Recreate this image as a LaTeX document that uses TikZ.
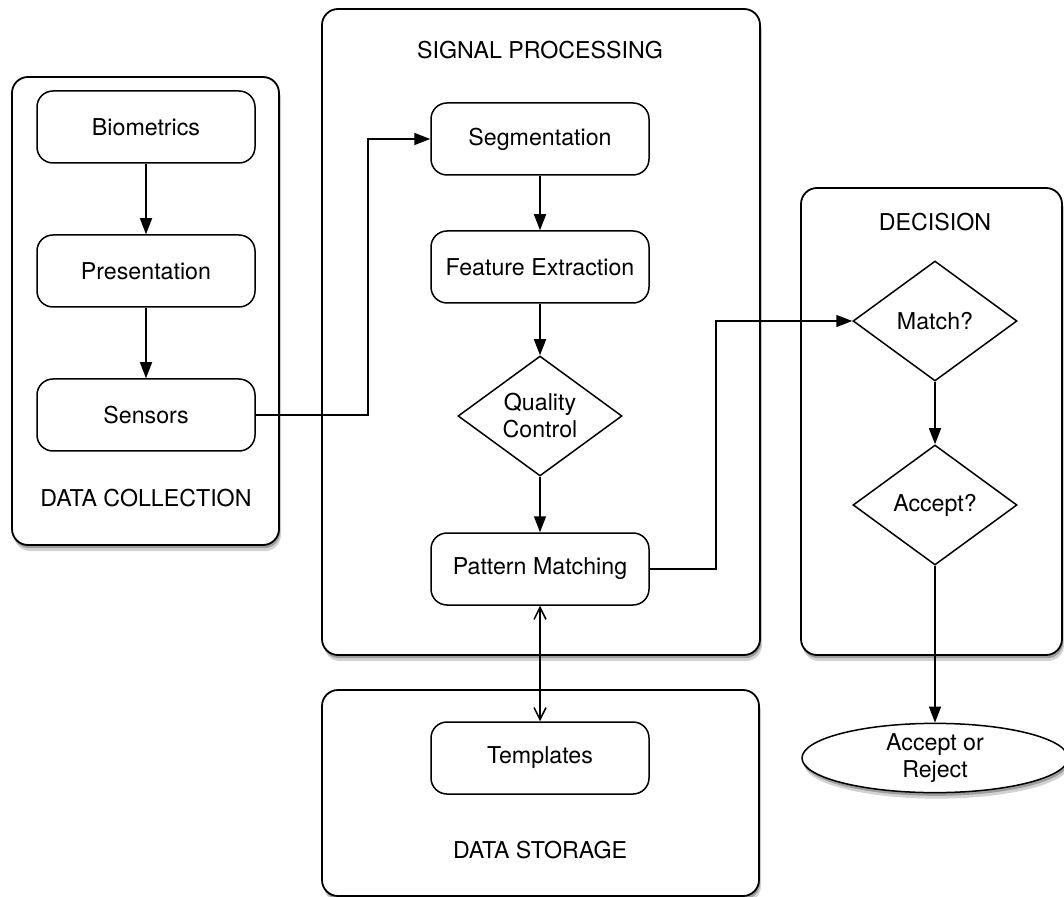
\documentclass[tikz,border=0pt]{standalone}
\usepackage{fontspec}
\setmainfont{TeX Gyre Heros}
\usetikzlibrary{arrows.meta,shapes.geometric,shadows}

\begin{document}
\begin{tikzpicture}[x=0.5pt,y=-0.5pt,node distance=72pt,
        font=\fontsize{11.6}{13.5}\selectfont,line width=0.75pt,
        group/.style={draw,rounded corners=8pt,fill=white,line width=0.9pt,
            drop shadow={shadow xshift=1pt,shadow yshift=-3pt,opacity=0.35},
            drop shadow={shadow xshift=0.6pt,shadow yshift=-1.6pt,opacity=0.65}},
        block/.style={rectangle,draw,rounded corners=8pt,minimum width=109pt,minimum height=36pt,inner sep=2pt},
        check/.style={diamond,draw,aspect=1.37,minimum width=82pt,minimum height=60pt,inner sep=0pt,align=center},
        final/.style={ellipse,draw,fill=white,minimum width=133pt,minimum height=34pt,inner sep=0pt,align=center,
            drop shadow={shadow xshift=1pt,shadow yshift=-3pt,opacity=0.35},
            drop shadow={shadow xshift=0.6pt,shadow yshift=-1.6pt,opacity=0.65}},
        arr/.style={-{Triangle[length=8pt,width=6pt]}},
        dbl/.style={{Straight Barb[length=6pt,width=6pt]}-{Straight Barb[length=6pt,width=6pt]}}]

    \useasboundingbox (0,0) rectangle (1064,897);

    % groups
    \node[group,minimum width=133.5pt,minimum height=234pt] (collect) at (145.5,311) {};
    \node[group,minimum width=219pt,minimum height=323pt] (process) at (541,332) {};
    \node[group,minimum width=218.5pt,minimum height=103pt] (store) at (540.5,793) {};
    \node[group,minimum width=130.5pt,minimum height=233.5pt] (decide) at (931.5,421.5) {};

    \node (collectlbl) at (146,498) {DATA COLLECTION};
    \node (processlbl) at (540,50) {SIGNAL PROCESSING};
    \node (storelbl) at (540,850) {DATA STORAGE};
    \node (decidelbl) at (935,222) {DECISION};

    % data collection
    \node[block] (bio) at (146,127) {Biometrics};
    \node[block] (pres) [below of=bio] {Presentation};
    \node[block] (sens) [below of=pres] {Sensors};

    % signal processing
    \node[block] (seg) at (540,139) {Segmentation};
    \node[block] (feat) [below of=seg,node distance=64pt] {Feature Extraction};
    \node[check] (qual) [below of=feat,node distance=74.5pt] {Quality\\Control};
    \node[block] (pat) [below of=qual,node distance=76.5pt] {Pattern Matching};
    \node[block] (tmpl) [below of=pat,node distance=94.5pt] {Templates};

    % decision
    \node[check] (match) at (935,321) {Match?};
    \node[check] (acc) [below of=match,node distance=92pt] {Accept?};
    \node[final] (result) [below of=acc,node distance=126.5pt] {Accept or\\Reject};

    \path[arr]
    (bio) edge (pres)
    (pres) edge (sens)
    (seg) edge (feat)
    (feat) edge (qual)
    (qual) edge (pat)
    (match) edge (acc)
    (acc) edge (result);
    \draw[arr] (sens.east) -- ++(112,0) |- (seg.west);
    \draw[arr] (pat.east) -- ++(66,0) |- (match.west);
    \path[dbl] (pat) edge (tmpl);

\end{tikzpicture}
\end{document}
